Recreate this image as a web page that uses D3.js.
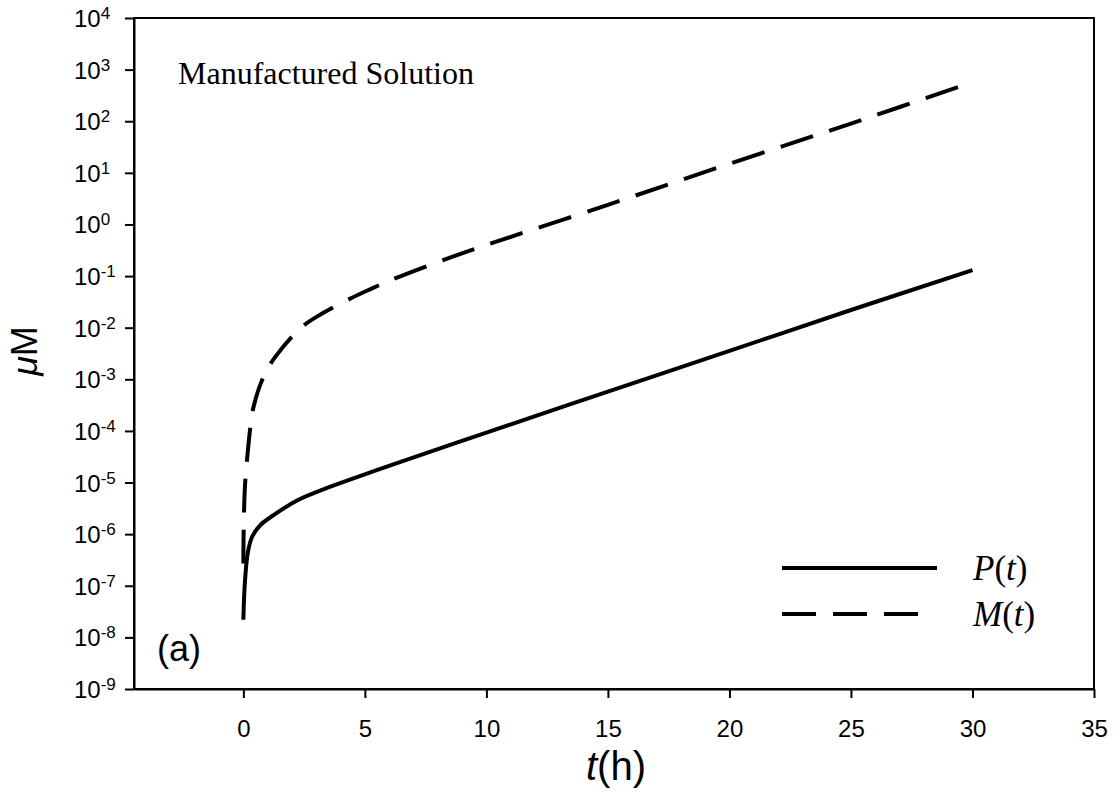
<!DOCTYPE html>
<html>
<head>
<meta charset="utf-8">
<script src="https://cdn.jsdelivr.net/npm/d3@7"></script>
<style>
  html, body { margin: 0; padding: 0; background: #fff; }
  svg { display: block; }
</style>
</head>
<body>
<svg id="chart" width="1115" height="795"></svg>
<script>
// ---- Data ----
const xTicks = [0, 5, 10, 15, 20, 25, 30, 35];
const yExponents = [-9, -8, -7, -6, -5, -4, -3, -2, -1, 0, 1, 2, 3, 4];

const pTime  = [0, 0.03, 0.07, 0.18, 0.36, 0.70, 1.25, 2.21, 3.58, 4.94, 6.05, 10, 15, 20, 25, 30];
const pValue = [2.2e-8, 6.0e-8, 1.3e-7, 4.3e-7, 8.9e-7, 1.5e-6, 2.35e-6, 4.5e-6, 8.3e-6, 1.41e-5, 2.14e-5, 9.3e-5, 5.75e-4, 3.55e-3, 2.2e-2, 1.3e-1];

const mTime  = [0, 0.01, 0.04, 0.08, 0.15, 0.29, 0.42, 0.82, 1.32, 2.35, 3.17, 4.47, 5.23, 6.05, 8, 10, 15, 20, 25, 30];
const mValue = [2.7e-7, 1.0e-6, 4.5e-6, 1.1e-5, 2.75e-5, 1.2e-4, 2.95e-4, 1.1e-3, 2.75e-3, 9.8e-3, 1.8e-2, 3.8e-2, 5.6e-2, 8.3e-2, 0.187, 0.4, 2.4, 15, 90, 575];

const seriesNames = ["P", "M"];
const annotation = "Manufactured Solution";
const panelLabel = "(a)";

// ---- Layout ----
const svg = d3.select("#chart");
const plotL = 134, plotR = 1094, plotT = 18, plotB = 689;

const x = d3.scaleLinear().domain([-4.5, 35]).range([plotL, plotR]);
const y = d3.scaleLog().domain([1e-9, 1e4]).range([plotB, plotT]);

const sans = "Arial, 'Liberation Sans', sans-serif";
const serif = "'Times New Roman', 'Liberation Serif', serif";

// frame
svg.append("rect")
  .attr("x", plotL).attr("y", plotT)
  .attr("width", plotR - plotL).attr("height", plotB - plotT)
  .attr("fill", "none").attr("stroke", "#000").attr("stroke-width", 2);

// x axis
const xAxis = svg.append("g")
  .attr("transform", `translate(0,${plotB})`)
  .call(d3.axisBottom(x).tickValues(xTicks).tickSize(9).tickSizeOuter(0).tickPadding(22));
xAxis.select(".domain").attr("stroke-width", 2);
xAxis.selectAll(".tick line").attr("stroke-width", 2);
xAxis.selectAll(".tick text").attr("font-family", sans).attr("font-size", 24).attr("fill", "#000");

// y axis
const yAxis = svg.append("g")
  .attr("transform", `translate(${plotL},0)`)
  .call(d3.axisLeft(y).tickValues(yExponents.map(e => Math.pow(10, e))).tickSize(9).tickSizeOuter(0).tickFormat(""));
yAxis.select(".domain").attr("stroke-width", 2);
yAxis.selectAll(".tick line").attr("stroke-width", 2);
yAxis.selectAll(".tick").each(function(d) {
  const e = Math.round(Math.log10(d));
  const t = d3.select(this).append("text")
    .attr("x", -60).attr("y", 8.5)
    .attr("text-anchor", "start")
    .attr("font-family", sans).attr("font-size", 24).attr("fill", "#000");
  t.append("tspan").text("10");
  t.append("tspan").attr("font-size", 17).attr("dy", -8).text(String(e));
});

// lines
const line = d3.line().x(d => x(d[0])).y(d => y(d[1])).curve(d3.curveCatmullRom.alpha(0.5));
const pData = pTime.map((t, i) => [t, pValue[i]]);
const mData = mTime.map((t, i) => [t, mValue[i]]);

svg.append("path").datum(pData).attr("d", line)
  .attr("fill", "none").attr("stroke", "#000").attr("stroke-width", 4);
svg.append("path").datum(mData).attr("d", line)
  .attr("fill", "none").attr("stroke", "#000").attr("stroke-width", 4)
  .attr("stroke-dasharray", "34,17");

// legend
const leg = svg.append("g");
leg.append("line").attr("x1", 782).attr("x2", 937).attr("y1", 568).attr("y2", 568)
  .attr("stroke", "#000").attr("stroke-width", 4);
leg.append("line").attr("x1", 782).attr("x2", 920).attr("y1", 614).attr("y2", 614)
  .attr("stroke", "#000").attr("stroke-width", 4).attr("stroke-dasharray", "34,17");
[[seriesNames[0], 580], [seriesNames[1], 626]].forEach(([nm, yy]) => {
  const t = leg.append("text").attr("x", 973).attr("y", yy)
    .attr("font-family", serif).attr("font-size", 35).attr("fill", "#000");
  t.append("tspan").attr("font-style", "italic").text(nm);
  t.append("tspan").text("(");
  t.append("tspan").attr("font-style", "italic").text("t");
  t.append("tspan").text(")");
});

// annotation
svg.append("text").attr("x", 178).attr("y", 84)
  .attr("font-family", serif).attr("font-size", 32).attr("fill", "#000")
  .text(annotation);

svg.append("text").attr("x", 157).attr("y", 661)
  .attr("font-family", sans).attr("font-size", 36).attr("fill", "#000")
  .text(panelLabel);

// axis titles
const xt = svg.append("text").attr("x", 616).attr("y", 780).attr("text-anchor", "middle")
  .attr("font-family", sans).attr("font-size", 40).attr("fill", "#000");
xt.append("tspan").attr("font-style", "italic").text("t");
xt.append("tspan").text("(h)");

const yt = svg.append("text").attr("transform", "translate(37,351) rotate(-90)")
  .attr("text-anchor", "middle")
  .attr("font-family", sans).attr("font-size", 36).attr("fill", "#000");
yt.append("tspan").attr("font-style", "italic").text("\u03bc");
yt.append("tspan").text("M");
</script>
</body>
</html>
